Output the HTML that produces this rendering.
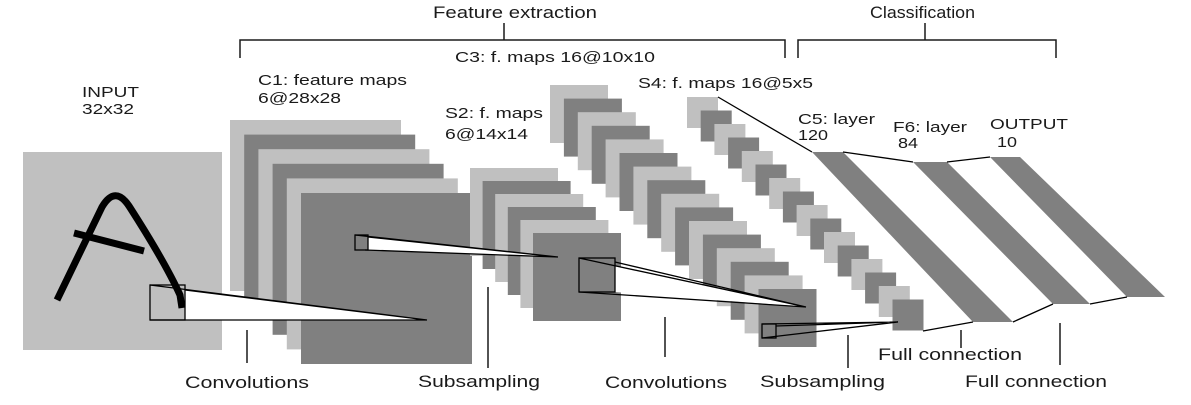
<!DOCTYPE html>
<html><head><meta charset="utf-8"><style>
html,body{margin:0;padding:0;background:#fff;}
svg{display:block;}
text{font-family:"Liberation Sans",Arial,sans-serif;fill:#1a1a1a;}
</style></head><body>
<svg id="c" width="1191" height="405" viewBox="0 0 1191 405">
<g stroke="#1a1a1a" stroke-width="1.5" fill="none">
  <path d="M240,58 V40 H785 V58 M504,40 V23"/>
  <path d="M798,58 V40 H1056 V58 M925,40 V23"/>
</g>
<text x="433" y="18" font-size="17" textLength="164" lengthAdjust="spacingAndGlyphs">Feature extraction</text>
<text x="870" y="18" font-size="17" textLength="105" lengthAdjust="spacingAndGlyphs">Classification</text>

<rect x="23" y="152" width="199" height="198" fill="#c0c0c0"/>
<g stroke="#000" stroke-width="7" fill="none" stroke-linecap="butt">
  <path d="M57,300 L102,207 Q115,185 129,206 Q165,262 180,295 L182,308"/>
  <path d="M74,233 L144,251"/>
</g>
<g id="stacks"></g>
<g id="links"></g>
<g id="labels"></g>
</svg>
<script>
var svg=document.getElementById('c');
var NS='http://www.w3.org/2000/svg';
var layerNames=['c1-maps','s2-maps','c3-maps','s4-maps'];
var mapCounts=[6,6,16,16];
var stackGeom=[
 {x:230,y:120,s:171,dx:14.2,dy:14.6},
 {x:470,y:168,s:88,dx:12.6,dy:13},
 {x:550,y:85,s:58,dx:13.9,dy:13.6},
 {x:687,y:97,s:31,dx:13.7,dy:13.5}
];
var st=document.getElementById('stacks');
for(var L=0;L<layerNames.length;L++){
  var g=stackGeom[L];
  for(var i=0;i<mapCounts[L];i++){
    var r=document.createElementNS(NS,'rect');
    r.setAttribute('x',g.x+i*g.dx);r.setAttribute('y',g.y+i*g.dy);
    r.setAttribute('width',g.s);r.setAttribute('height',g.s);
    r.setAttribute('fill',i%2?'#808080':'#c0c0c0');
    
    
    st.appendChild(r);
  }
}
var lk=document.getElementById('links');
function add(tag,attrs,name){
  var e=document.createElementNS(NS,tag);
  for(var k in attrs)e.setAttribute(k,attrs[k]);
  
  
  lk.appendChild(e);return e;
}
// receptive field cones
add('polygon',{points:'185,289 427,320 185,320',fill:'#fff',stroke:'none'},'conv1-cone-fill');
add('path',{d:'M150,285 L427,320 M185,290 L427,320 M150,320 L427,320',stroke:'#000','stroke-width':1.3,fill:'none'},'conv1-cone');
add('rect',{x:150,y:285,width:35,height:35,fill:'none',stroke:'#000','stroke-width':1.3},'conv1-window');
add('polygon',{points:'368,237 558,257 368,250',fill:'#fff',stroke:'none'},'sub1-cone-fill');
add('path',{d:'M355,235 L558,257 M368,237 L558,257 M365,250 L558,257',stroke:'#000','stroke-width':1.3,fill:'none'},'sub1-cone');
add('rect',{x:355,y:235,width:13,height:15,fill:'none',stroke:'#000','stroke-width':1.3},'sub1-window');
add('polygon',{points:'615,266 806,307 615,292',fill:'#fff',stroke:'none'},'conv2-cone-fill');
add('path',{d:'M579,258 L806,307 M615,262 L806,307 M579,292 L806,307',stroke:'#000','stroke-width':1.3,fill:'none'},'conv2-cone');
add('rect',{x:579,y:258,width:36,height:34,fill:'none',stroke:'#000','stroke-width':1.3},'conv2-window');
add('path',{d:'M762,324 L898,322 M776,326 L898,322 M762,338 L898,322',stroke:'#000','stroke-width':1.3,fill:'none'},'sub2-cone');
add('rect',{x:762,y:324,width:14,height:14,fill:'none',stroke:'#000','stroke-width':1.3},'sub2-window');
// fully connected bands
add('polygon',{points:'812,152 843,152 1013,322 973,322',fill:'#808080'},'c5-layer-band');
add('polygon',{points:'913,162 947,162 1090,304 1053,304',fill:'#808080'},'f6-layer-band');
add('polygon',{points:'990,157 1020,157 1165,297 1127,297',fill:'#808080'},'output-layer-band');
add('path',{d:'M718,97 L812,152 M843,152 L913,162 M947,162 L990,157 M923,331 L973,322 M1013,322 L1053,304 M1090,304 L1127,297',stroke:'#000','stroke-width':1.3,fill:'none'},'connection-lines');
// ticks
add('path',{d:'M247,330 V363 M488,287 V368 M665,317 V357 M848,335 V368 M961,330 V348 M1060,323 V365',stroke:'#1a1a1a','stroke-width':1.5,fill:'none'},'operation-ticks');

var labelTexts=['INPUT','32x32','C1: feature maps','6@28x28','C3: f. maps 16@10x10','S2: f. maps','6@14x14','S4: f. maps 16@5x5','C5: layer','120','F6: layer','84','OUTPUT','10','Convolutions','Subsampling','Convolutions','Subsampling','Full connection','Full connection'];
var labelNames=['input-label','input-size','c1-label','c1-size','c3-label','s2-label','s2-size','s4-label','c5-label','c5-size','f6-label','f6-size','output-label','output-size','convolutions-label-1','subsampling-label-1','convolutions-label-2','subsampling-label-2','full-connection-label-1','full-connection-label-2'];
var labelBox=[[82,97,57],[82,114,52],[258,85,149],[258,103,83],[455,62,200],[445,118,98],[445,139,83],[638,88,175],[798,124,77],[798,140,30],[893,132,74],[898,148,20],[990,129,78],[997,147,20],[185,388,124],[418,387,122],[605,388,122],[760,387,125],[878,360,144],[965,387,142]];
var lb=document.getElementById('labels');
for(var j=0;j<labelTexts.length;j++){
  var t=document.createElementNS(NS,'text');
  var b=labelBox[j];
  t.setAttribute('x',b[0]);t.setAttribute('y',b[1]);
  t.setAttribute('font-size',j>=14?17:15);
  t.setAttribute('textLength',b[2]);t.setAttribute('lengthAdjust','spacingAndGlyphs');
  t.textContent=labelTexts[j];
  
  
  lb.appendChild(t);
}
</script>
</body></html>
